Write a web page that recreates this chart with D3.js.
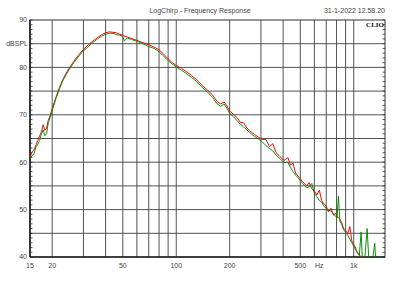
<!DOCTYPE html>
<html>
<head>
<meta charset="utf-8">
<script src="https://cdn.jsdelivr.net/npm/d3@7"></script>
<style>
  body { margin: 0; background: #fff; }
  text { font-family: "Liberation Sans", Arial, sans-serif; }
</style>
</head>
<body>
<div id="main"></div>
<script>
// frequency points (Hz) and the two measured curves (dBSPL)
var freqs = [15, 15.4, 15.8, 16.2, 16.6, 17, 17.4, 17.8, 18.2, 18.6, 19, 19.5, 20, 21, 22, 23, 24, 25, 26.5, 28,
  30, 32, 34, 36, 38, 40, 42, 44, 46, 48, 50, 51, 53, 56, 60, 65, 70, 75, 80, 85,
  90, 95, 100, 107, 115, 122, 130, 140, 150, 160, 170, 178, 186, 193, 200, 210, 220, 230, 240, 250,
  260, 275, 290, 305, 320, 335, 350, 365, 380, 395, 410, 425, 440, 455, 470, 485, 500, 515, 530, 545,
  560, 580, 600, 620, 640, 660, 680, 700, 720, 745, 770, 790, 805, 820, 835, 855, 875, 900, 925, 950,
  975, 1000, 1025, 1050, 1075, 1100, 1120, 1150, 1190, 1220, 1260, 1313, 1340, 1400, 1450, 1500];

var greenDb = [60.6, 61.4, 61.8, 63.2, 63.8, 64.6, 66.0, 66.8, 65.6, 66.0, 68.3, 69.5, 70.9, 73.4, 75.5, 77.2, 78.5, 79.6, 81.0, 82.2,
  83.5, 84.4, 85.3, 86.0, 86.6, 87.0, 87.2, 87.2, 86.9, 86.8, 86.5, 85.6, 86.2, 85.9, 85.5, 85.0, 84.4, 84.0, 83.3, 82.4,
  81.4, 80.7, 80.1, 79.4, 78.6, 77.9, 77.0, 75.8, 74.8, 73.7, 72.3, 71.8, 72.3, 71.4, 70.3, 69.6, 68.8, 68.0, 67.4, 66.8,
  66.2, 65.5, 64.9, 64.3, 63.5, 62.9, 62.4, 61.5, 60.9, 60.3, 59.9, 60.0, 58.9, 58.0, 57.3, 56.7, 56.1, 55.5, 55.1, 54.6,
  54.8, 55.5, 53.5, 52.7, 51.9, 51.6, 50.7, 50.3, 49.8, 49.7, 49.1, 48.6, 48.2, 52.8, 47.6, 46.9, 45.8, 45.2, 44.6, 43.8,
  43.0, 42.3, 41.5, 41.0, 40.3, 45.3, 39.2, 38.9, 46.0, 38.4, 37.8, 42.9, 37.4, 37.0, 36.5, 36.2];

var redDb = [61.0, 62.2, 62.6, 63.6, 64.6, 65.6, 66.4, 67.9, 66.7, 67.2, 68.8, 69.9, 71.3, 73.7, 75.8, 77.5, 78.8, 79.9, 81.3, 82.5,
  83.8, 84.8, 85.6, 86.3, 86.9, 87.3, 87.5, 87.4, 87.3, 87.0, 86.8, 86.6, 86.4, 86.1, 85.7, 85.2, 84.8, 84.3, 83.7, 82.8,
  81.8, 81.0, 80.4, 79.8, 79.0, 78.3, 77.4, 76.2, 75.2, 74.2, 72.8, 72.3, 72.7, 71.9, 70.8, 70.1, 69.4, 68.4, 68.3, 67.2,
  66.6, 65.9, 65.3, 64.8, 64.8, 63.3, 63.9, 62.0, 61.4, 60.7, 60.4, 61.0, 59.4, 59.8, 57.7, 57.1, 56.5, 55.9, 55.5, 55.0,
  55.7, 54.4, 53.9, 53.1, 54.1, 51.9, 51.2, 50.7, 49.5, 50.3, 48.8, 49.3, 48.5, 48.3, 48.0, 47.3, 46.1, 45.6, 44.9, 46.4,
  43.4, 42.6, 41.9, 40.7, 40.6, 39.8, 39.5, 38.6, 39.0, 38.1, 38.2, 37.6, 37.1, 36.8, 36.7, 36.4];

var xGrid = [20, 30, 40, 50, 60, 70, 80, 90, 100, 200, 300, 400, 500, 600, 700, 800, 900, 1000];
var xLabels = [[15, "15"], [20, "20"], [50, "50"], [100, "100"], [200, "200"], [500, "500"], [1000, "1k"]];
var yGrid = [45, 50, 55, 60, 65, 70, 75, 80, 85];
var yLabels = [90, 80, 70, 60, 50, 40];

function drawChart() {
var width = 400, height = 300;
var pLeft = 30, pRight = 385, pTop = 20, pBottom = 257;

var x = d3.scaleLog().domain([15, 1500]).range([pLeft, pRight]);
var y = d3.scaleLinear().domain([40, 90]).range([pBottom, pTop]);

var svg = d3.select("#main").append("svg")
    .attr("width", width)
    .attr("height", height);

svg.append("rect").attr("width", width).attr("height", height).attr("fill", "#fff");

// grid
svg.append("g").selectAll("line")
    .data(xGrid)
  .enter().append("line")
    .attr("x1", function(d) { return x(d); }).attr("x2", function(d) { return x(d); })
    .attr("y1", pTop).attr("y2", pBottom)
    .attr("stroke", "#404040").attr("stroke-width", 0.9);

svg.append("g").selectAll("line")
    .data(yGrid)
  .enter().append("line")
    .attr("y1", function(d) { return y(d); }).attr("y2", function(d) { return y(d); })
    .attr("x1", pLeft).attr("x2", pRight)
    .attr("stroke", "#404040").attr("stroke-width", 0.9);

// minor ticks on left and right edges, every 1 dB
var minor = d3.range(40, 91, 1);
svg.append("g").selectAll("line")
    .data(minor)
  .enter().append("line")
    .attr("x1", pLeft).attr("x2", pLeft + 2.5)
    .attr("y1", function(d) { return y(d); }).attr("y2", function(d) { return y(d); })
    .attr("stroke", "#333").attr("stroke-width", 0.8);
svg.append("g").selectAll("line")
    .data(minor)
  .enter().append("line")
    .attr("x1", pRight - 2.5).attr("x2", pRight)
    .attr("y1", function(d) { return y(d); }).attr("y2", function(d) { return y(d); })
    .attr("stroke", "#333").attr("stroke-width", 0.8);

// frame
svg.append("rect")
    .attr("x", pLeft).attr("y", pTop)
    .attr("width", pRight - pLeft).attr("height", pBottom - pTop)
    .attr("fill", "none").attr("stroke", "#333").attr("stroke-width", 1);
svg.append("line").attr("x1", pLeft).attr("x2", pLeft).attr("y1", pTop).attr("y2", pBottom)
    .attr("stroke", "#222").attr("stroke-width", 1.6);
svg.append("line").attr("x1", pLeft).attr("x2", pRight).attr("y1", pBottom).attr("y2", pBottom)
    .attr("stroke", "#222").attr("stroke-width", 1.6);

// curves
svg.append("clipPath").attr("id", "clip")
  .append("rect").attr("x", pLeft).attr("y", pTop)
    .attr("width", pRight - pLeft).attr("height", pBottom - pTop);

var line = d3.line()
    .x(function(d) { return x(d[0]); })
    .y(function(d) { return y(d[1]); });

var plot = svg.append("g").attr("clip-path", "url(#clip)");
plot.append("path")
    .datum(d3.zip(freqs, redDb))
    .attr("d", line)
    .attr("fill", "none").attr("stroke", "#f00000").attr("stroke-width", 0.95);
plot.append("path")
    .datum(d3.zip(freqs, greenDb))
    .attr("d", line)
    .attr("fill", "none").attr("stroke", "#008a00").attr("stroke-width", 0.95);

// labels
svg.append("g").selectAll("text")
    .data(yLabels)
  .enter().append("text")
    .attr("x", pLeft - 3).attr("y", function(d) { return y(d); })
    .attr("dy", "0.35em")
    .attr("text-anchor", "end")
    .attr("font-size", 7).attr("fill", "#444")
    .text(function(d) { return d; });

svg.append("text")
    .attr("x", pLeft - 2).attr("y", y(85))
    .attr("dy", "0.35em").attr("text-anchor", "end")
    .attr("font-size", 7).attr("fill", "#444")
    .text("dBSPL");

svg.append("g").selectAll("text")
    .data(xLabels)
  .enter().append("text")
    .attr("x", function(d) { return x(d[0]); }).attr("y", pBottom + 11)
    .attr("text-anchor", "middle")
    .attr("font-size", 7).attr("fill", "#444")
    .text(function(d) { return d[1]; });

svg.append("text")
    .attr("x", x(640)).attr("y", pBottom + 11)
    .attr("text-anchor", "middle")
    .attr("font-size", 7).attr("fill", "#444")
    .text("Hz");

svg.append("text")
    .attr("x", 200).attr("y", 13)
    .attr("text-anchor", "middle")
    .attr("font-size", 7).attr("fill", "#444")
    .text("LogChirp - Frequency Response");

svg.append("text")
    .attr("x", pRight).attr("y", 13)
    .attr("text-anchor", "end")
    .attr("font-size", 7).attr("fill", "#444")
    .text("31-1-2022 12.58.20");

svg.append("text")
    .attr("x", pRight - 1).attr("y", pTop + 7)
    .attr("text-anchor", "end")
    .attr("font-size", 7).attr("font-weight", "bold")
    .style("font-family", "'Liberation Serif', 'DejaVu Serif', serif")
    .attr("fill", "#111")
    .text("CLIO");
}
drawChart();
</script>
</body>
</html>
